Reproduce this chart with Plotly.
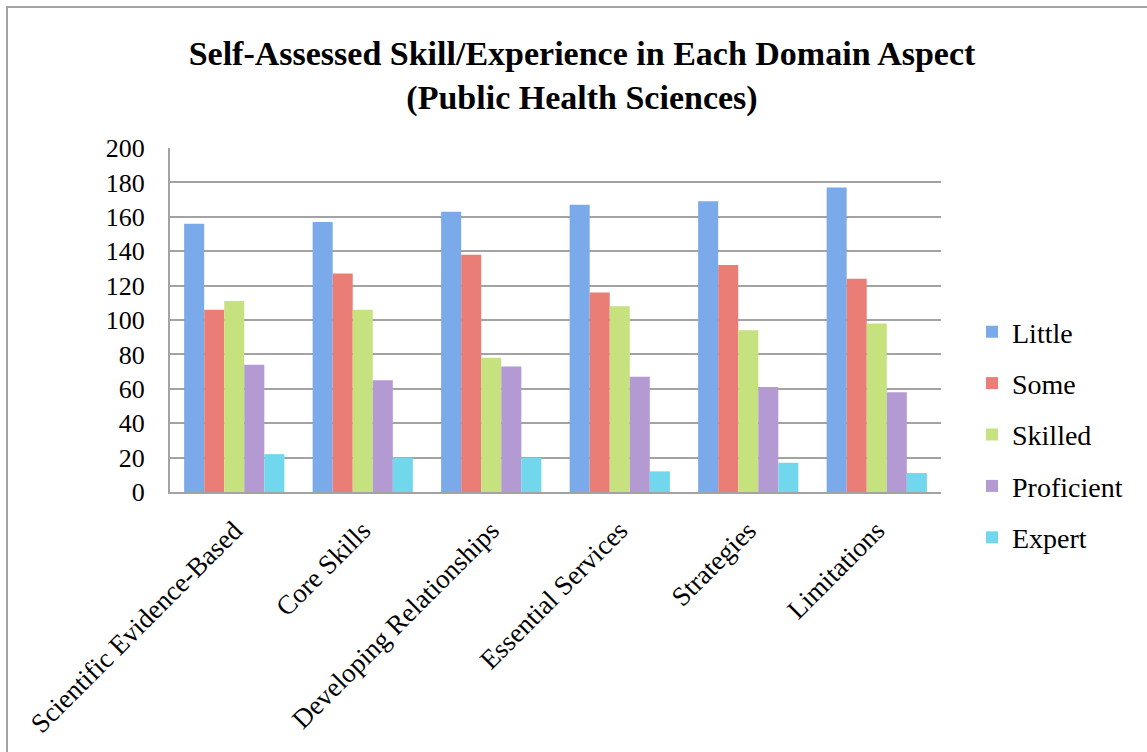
import plotly.graph_objects as go

# Domain aspects (x categories)
categories = [
    "Scientific Evidence-Based",
    "Core Skills",
    "Developing Relationships",
    "Essential Services",
    "Strategies",
    "Limitations",
]

# Respondent counts per skill level
little = [156, 157, 163, 167, 169, 177]
some = [106, 127, 138, 116, 132, 124]
skilled = [111, 106, 78, 108, 94, 98]
proficient = [74, 65, 73, 67, 61, 58]
expert = [22, 20, 20, 12, 17, 11]

series_names = ["Little", "Some", "Skilled", "Proficient", "Expert"]
series_values = [little, some, skilled, proficient, expert]
series_colors = ["#7aaae9", "#ea7e76", "#c6e27f", "#b39ad3", "#70d7ec"]

y_ticks = [0, 20, 40, 60, 80, 100, 120, 140, 160, 180, 200]

W, H = 1147, 752
L, R, T, B = 170, 206, 148, 260

TEXT_FONT = "Liberation Serif, Times New Roman, serif"

fig = go.Figure()
for i, (name, vals, col) in enumerate(zip(series_names, series_values, series_colors)):
    fig.add_trace(
        go.Bar(
            name=name,
            x=categories,
            y=vals,
            marker=dict(color=col, line=dict(width=0)),
            legendgroup=f"g{i}",
        )
    )

plot_w = W - L - R
plot_h = H - T - B

def px_to_paper_x(px):
    return (px - L) / plot_w

def px_to_paper_y(py):
    return (H - B - py) / plot_h

fig.update_layout(
    width=W,
    height=H,
    margin=dict(l=L, r=R, t=T, b=B, pad=0),
    paper_bgcolor="white",
    plot_bgcolor="white",
    barmode="group",
    bargap=0.22,
    bargroupgap=0,
    title=dict(
        text="Self-Assessed Skill/Experience in Each Domain Aspect<br>(Public Health Sciences)",
        font=dict(family=TEXT_FONT, size=34, color="black", weight="bold"),
        x=582 / W,
        xanchor="center",
        y=1 - 65 / H,
        yanchor="middle",
    ),
    font=dict(family=TEXT_FONT, size=26, color="black"),
    legend=dict(
        x=px_to_paper_x(972),
        xanchor="left",
        y=px_to_paper_y(307),
        yanchor="top",
        font=dict(family=TEXT_FONT, size=28, color="black"),
        tracegroupgap=12,
        bgcolor="rgba(0,0,0,0)",
    ),
    xaxis=dict(
        type="category",
        tickangle=-45,
        showgrid=False,
        showline=True,
        linecolor="#a3a3a3",
        linewidth=2,
        ticks="",
        ticklabelstandoff=10,
        tickfont=dict(family=TEXT_FONT, size=27, color="black"),
    ),
    yaxis=dict(
        range=[0, 200],
        tickvals=y_ticks,
        showgrid=True,
        gridcolor="#a3a3a3",
        gridwidth=2,
        showline=True,
        linecolor="#a3a3a3",
        linewidth=2,
        zeroline=False,
        ticks="",
        ticklabelstandoff=18,
        tickfont=dict(family=TEXT_FONT, size=26, color="black"),
    ),
    shapes=[
        # outer chart frame (top and left edges visible)
        dict(
            type="rect",
            xref="paper",
            yref="paper",
            x0=px_to_paper_x(7),
            x1=px_to_paper_x(W + 50),
            y0=px_to_paper_y(H + 50),
            y1=px_to_paper_y(7),
            line=dict(color="#a3a3a3", width=2),
            fillcolor="rgba(0,0,0,0)",
            layer="below",
        )
    ],
)

fig.write_html("out.html")
